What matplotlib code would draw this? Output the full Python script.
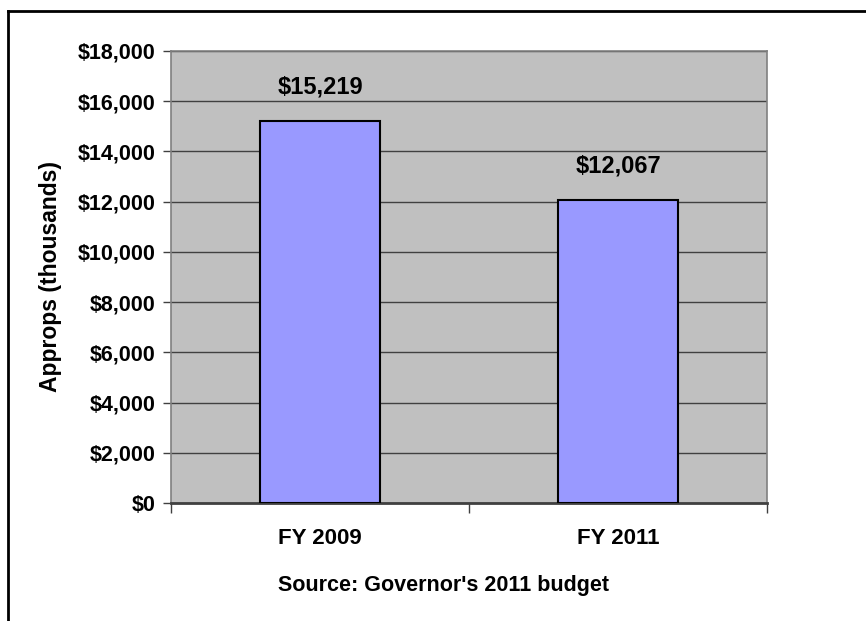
import matplotlib
matplotlib.use('Agg')
import matplotlib.pyplot as plt
import matplotlib.ticker as ticker
from matplotlib.lines import Line2D

plt.rcParams['font.family'] = ['Liberation Sans', 'DejaVu Sans']
plt.rcParams['font.weight'] = 'bold'

# --- datos ---
categorias = ["FY 2009", "FY 2011"]
valores    = [15219, 12067]
etiquetas  = ["$15,219", "$12,067"]
y_ticks    = [0, 2000, 4000, 6000, 8000, 10000, 12000, 14000, 16000, 18000]

fig = plt.figure(figsize=(8.66, 6.21), dpi=100)
ax = fig.add_axes([171/866, 118/621, 596/866, 452/621])

ax.set_facecolor("#C0C0C0")
ax.set_axisbelow(True)
ax.grid(True, axis="y", color="#404040", linewidth=1.0)

xs = list(range(len(categorias)))
bars = ax.bar(xs, valores, width=0.403, color="#9999FF",
              edgecolor="black", linewidth=1.5, zorder=3)

for bar, txt in zip(bars, etiquetas):
    ax.annotate(txt, xy=(bar.get_x() + bar.get_width()/2, bar.get_height()),
                xytext=(0, 16), textcoords="offset points",
                ha="center", va="bottom", fontsize=17, fontweight="bold")

ax.set_xlim(-0.5, 1.5)
ax.set_ylim(0, 18000)
ax.set_yticks(y_ticks)
ax.yaxis.set_major_formatter(ticker.FuncFormatter(lambda v, p: f"${v:,.0f}"))
ax.tick_params(axis="y", labelsize=15.5, length=6, width=1, color="#404040", pad=5)

# ticks del eje x entre categorias, etiquetas centradas
ax.set_xticks([-0.5, 0.5, 1.5])
ax.set_xticklabels([])
ax.set_xticks(xs, minor=True)
ax.set_xticklabels(categorias, minor=True, fontsize=16, fontweight="bold")
ax.tick_params(axis="x", which="major", length=7, width=1, color="#404040")
ax.tick_params(axis="x", which="minor", length=0, pad=18)

for side in ["top", "right", "left"]:
    ax.spines[side].set_color("#808080")
    ax.spines[side].set_linewidth(1.2)
ax.spines["bottom"].set_color("#404040")
ax.spines["bottom"].set_linewidth(2)

ax.set_ylabel("Approps (thousands)", fontsize=16.5, fontweight="bold")
ax.yaxis.set_label_coords(-0.183, 0.5)

fig.text(444/866, 1 - 585/621, "Source: Governor's 2011 budget",
         ha="center", va="center", fontsize=15.5, fontweight="bold")

# marco exterior
fig.add_artist(Line2D([8/866, 1.0], [1 - 11/621, 1 - 11/621],
                      transform=fig.transFigure, color="black", linewidth=2))
fig.add_artist(Line2D([8/866, 8/866], [0, 1 - 11/621],
                      transform=fig.transFigure, color="black", linewidth=2))

fig.savefig("out.png", dpi=100)
plt.close()
